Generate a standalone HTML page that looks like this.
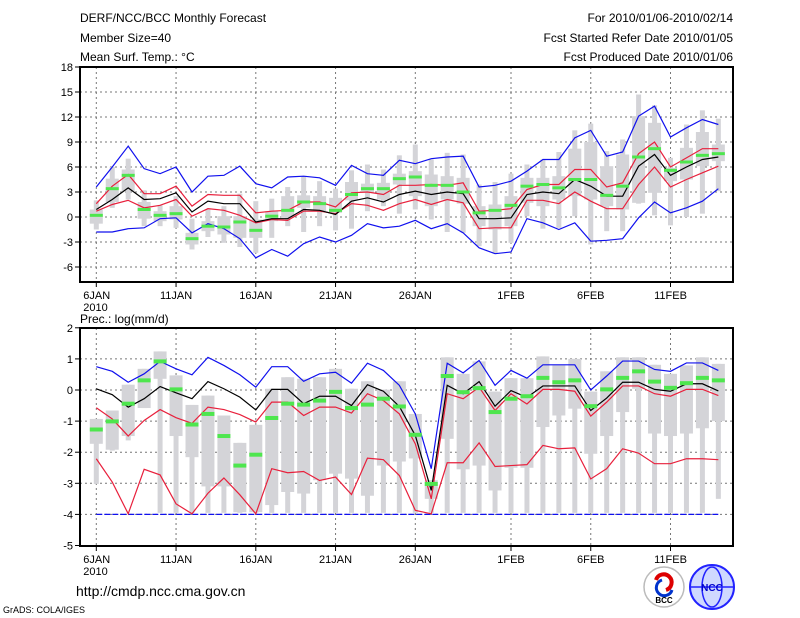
<!DOCTYPE html>
<html><head><meta charset="utf-8"><style>
html,body{margin:0;padding:0;background:#fff;}
svg{display:block;font-family:"Liberation Sans",sans-serif;}
</style></head><body>
<svg id="chart" width="800" height="618" viewBox="0 0 800 618">
<g font-size="12" fill="#000">
<text x="80" y="22">DERF/NCC/BCC Monthly Forecast</text>
<text x="80" y="42">Member Size=40</text>
<text x="80" y="61">Mean Surf. Temp.: °C</text>
<text x="733" y="22" text-anchor="end">For 2010/01/06-2010/02/14</text>
<text x="733" y="42" text-anchor="end">Fcst Started Refer Date 2010/01/05</text>
<text x="733" y="61" text-anchor="end">Fcst Produced Date 2010/01/06</text>
</g>
<text x="80" y="323" font-size="12">Prec.: log(mm/d)</text>
<text x="76" y="596" font-size="14">http://cmdp.ncc.cma.gov.cn</text>
<text x="3" y="613" font-size="9">GrADS: COLA/IGES</text>
<g>
<circle cx="664" cy="587" r="20" fill="#fff" stroke="#bbb" stroke-width="1.5"/>
<path d="M656 580 a8 8 0 1 1 10 10" fill="none" stroke="#d00" stroke-width="4"/>
<path d="M672 590 a8 8 0 1 1 -10 -10" fill="none" stroke="#03c" stroke-width="3"/>
<text x="664" y="603" font-size="8" text-anchor="middle" font-weight="bold">BCC</text>
</g>
<g>
<circle cx="712" cy="587" r="22" fill="#cfd8ff" stroke="#22f" stroke-width="2"/>
<ellipse cx="712" cy="587" rx="10" ry="20" fill="none" stroke="#22f" stroke-width="1.5"/>
<line x1="690" y1="587" x2="734" y2="587" stroke="#22f" stroke-width="1.5"/>
<text x="712" y="591" font-size="10" text-anchor="middle" fill="#00c" font-weight="bold">NCC</text>
</g>
<g id="top"></g>
<g id="bot"></g>
</svg>
<script>
// ---- temperature panel data ----
const tBlueMax=[3.6,6.0,8.5,5.8,5.2,6.0,3.0,4.9,5.0,6.1,4.0,3.5,4.8,4.9,4.7,3.8,6.2,5.2,5.0,6.8,6.4,7.0,7.2,7.3,3.6,3.8,4.3,5.5,6.9,6.9,9.5,10.4,7.3,7.8,12.1,13.3,9.6,10.7,11.7,11.1];
const tBlueMin=[-1.8,-1.8,-1.4,-1.3,-0.2,-0.1,-1.9,-0.8,-1.4,-2.6,-4.9,-3.9,-4.7,-3.2,-2.4,-3.0,-2.2,-0.8,-1.3,-1.1,-0.4,-1.4,-0.8,-1.9,-3.7,-4.4,-4.2,-0.2,-0.7,-1.5,-0.7,-2.9,-2.8,-2.6,-0.1,1.8,0.5,1.1,1.9,3.4];
const tRedUp=[1.6,3.7,5.1,2.8,2.8,3.7,1.3,2.7,2.6,2.6,0.5,0.7,0.8,1.8,1.8,1.2,2.9,3.0,2.7,3.8,3.8,3.9,3.8,4.1,0.7,0.8,1.0,3.3,3.9,3.9,5.7,5.7,3.6,4.1,7.6,9.0,6.0,7.1,8.2,8.2];
const tRedLo=[0.7,1.5,2.0,1.1,1.4,2.1,0.1,1.0,0.8,0.2,-0.7,-0.3,-0.4,0.7,0.7,0.4,1.6,1.4,0.8,1.6,2.1,1.5,2.1,1.7,-1.4,-1.3,-1.3,2.0,2.0,1.6,3.0,1.9,1.0,1.0,3.9,6.0,3.6,4.5,5.3,6.1];
const tMean=[0.9,2.1,3.5,2.1,2.2,2.9,0.6,1.9,1.6,1.6,-0.6,-0.2,-0.2,0.9,0.8,0.3,1.9,2.3,1.8,2.7,3.1,2.7,3.0,2.8,-0.2,-0.2,-0.1,2.7,3.0,2.8,4.5,3.7,2.5,2.5,6.1,7.5,5.0,6.0,6.9,7.2];
const tObs=[0.2,3.4,5.0,0.9,0.2,0.4,-2.6,-1.1,-1.2,-0.6,-1.6,0.1,0.8,1.8,1.6,0.8,2.7,3.4,3.4,4.6,4.8,3.8,3.8,3.0,0.5,0.8,1.4,3.7,3.9,3.5,4.5,4.5,2.6,3.7,7.2,8.2,5.6,6.6,7.4,7.6];
const tWhiskHi=[2.0,6.0,7.0,3.2,1.4,2.5,-0.2,0.9,1.3,2.8,1.9,2.2,3.6,4.9,4.3,3.4,5.6,6.3,5.7,7.4,8.7,6.9,7.7,7.5,3.9,4.2,5.2,6.3,6.9,7.8,10.4,11.2,7.9,9.3,14.7,13.4,7.1,11.1,12.8,11.8];
const tBoxHi=[0.9,4.6,5.7,1.8,0.7,1.3,-1.9,-0.5,0.1,0.1,-0.3,0.7,2.5,2.6,2.5,2.3,4.2,4.0,4.1,5.2,5.5,5.1,4.9,4.7,1.3,1.5,2.5,4.7,4.7,4.9,8.2,9.0,6.1,7.5,12.1,11.3,5.9,8.3,10.2,8.7];
const tBoxLo=[-0.8,1.8,3.1,-0.2,-0.5,-0.3,-3.3,-1.7,-2.1,-2.5,-2.5,-0.5,-0.1,1.1,0.7,0.5,2.0,2.9,2.1,3.9,2.5,1.3,2.1,1.6,-1.1,-1.5,-1.1,1.7,1.3,2.1,2.5,2.1,1.3,0.9,1.7,2.9,4.3,4.5,6.1,6.7];
const tWhiskLo=[-1.5,1.1,2.1,-1.1,-1.1,-1.3,-3.9,-2.4,-3.1,-3.6,-4.3,-2.5,-1.1,-1.8,-1.1,-1.6,-1.4,0.7,1.3,0.4,0.9,-0.3,-1.8,-1.9,-3.5,-4.4,-3.1,0.1,-1.4,-1.3,0.1,-3.3,-1.7,-1.7,1.6,0.2,-1.0,0.0,0.4,3.1];
const tYTicks=[-6,-3,0,3,6,9,12,15,18];
// ---- precipitation panel data ----
const pBlueMax=[0.75,0.6,0.25,0.52,0.92,0.68,0.49,1.05,0.79,0.49,0.09,0.75,0.75,0.28,0.52,0.57,0.22,0.86,0.63,0.15,-0.77,-2.53,0.86,0.55,0.95,0.15,0.63,0.38,0.81,0.81,0.81,0.0,0.45,0.93,0.93,0.66,0.6,0.87,0.87,0.63];
const pBlueMin=[-4,-4,-4,-4,-4,-4,-4,-4,-4,-4,-4,-4,-4,-4,-4,-4,-4,-4,-4,-4,-4,-4,-4,-4,-4,-4,-4,-4,-4,-4,-4,-4,-4,-4,-4,-4,-4,-4,-4,-4];
const pMean=[0.04,-0.15,-0.55,-0.28,0.11,-0.09,-0.28,0.27,0.04,-0.23,-0.64,0.02,0.02,-0.44,-0.2,-0.2,-0.5,0.17,-0.04,-0.53,-1.46,-3.23,0.15,-0.12,0.27,-0.52,-0.02,-0.24,0.13,0.13,0.13,-0.66,-0.26,0.25,0.25,0.02,-0.04,0.2,0.2,-0.03];
const pRedUp=[-0.57,-0.93,-1.48,-0.98,-0.63,-0.89,-1.07,-0.55,-0.63,-0.79,-1.03,-0.39,-0.39,-0.82,-0.55,-0.55,-0.74,-0.12,-0.34,-0.77,-1.73,-3.5,-0.12,-0.28,0.09,-0.66,-0.12,-0.45,0.02,0.02,-0.04,-0.84,-0.39,0.13,0.13,-0.12,-0.2,0.02,0.02,-0.18];
const pRedLo=[-2.21,-2.96,-3.98,-2.55,-2.73,-3.66,-3.98,-3.32,-2.83,-3.37,-3.98,-2.53,-2.66,-2.62,-2.91,-2.8,-3.36,-2.19,-2.24,-2.75,-3.87,-3.98,-2.34,-2.34,-1.7,-2.46,-2.43,-2.4,-1.78,-1.89,-1.86,-2.86,-2.53,-1.89,-2.03,-2.37,-2.37,-2.21,-2.21,-2.24];
const pObs=[-1.27,-1.01,-0.44,0.31,0.92,0.02,-1.11,-0.77,-1.48,-2.43,-2.08,-0.9,-0.44,-0.47,-0.34,-0.06,-0.58,-0.47,-0.28,-0.53,-1.44,-3.02,0.45,-0.07,0.06,-0.71,-0.28,-0.2,0.39,0.25,0.31,-0.52,0.02,0.39,0.6,0.27,0.07,0.22,0.39,0.31];
const pBoxHi=[-0.93,-0.66,0.17,0.68,1.24,0.47,-0.48,-0.18,-0.82,-1.7,-1.12,0.04,0.41,0.36,0.41,0.68,0.04,0.28,0.01,0.28,-0.77,-2.9,1.05,0.52,0.92,-0.05,0.38,0.38,1.08,0.79,1.0,-0.05,0.6,1.05,1.05,0.81,0.52,0.79,1.05,0.84];
const pBoxLo=[-1.73,-1.92,-1.48,-0.58,0.36,-1.48,-2.16,-3.1,-3.1,-3.93,-3.93,-3.7,-3.28,-3.33,-2.9,-2.69,-2.85,-3.4,-2.43,-2.3,-2.2,-3.5,-1.57,-2.55,-2.43,-3.23,-2.5,-2.5,-1.19,-0.82,-0.6,-2.05,-1.48,-0.71,0.04,-1.4,-1.48,-1.4,-1.23,-1.0];
const pWhiskLo=[-3.02,-1.95,-1.62,-0.58,-3.95,-3.95,-3.95,-3.95,-3.95,-3.95,-3.95,-3.95,-3.95,-3.95,-3.95,-3.95,-3.95,-3.95,-3.95,-3.95,-3.95,-3.95,-3.95,-3.95,-3.95,-3.95,-3.95,-3.95,-3.95,-3.95,-3.95,-3.95,-3.95,-3.95,-3.95,-3.95,-3.95,-3.95,-3.95,-3.5];
const pYTicks=[-5,-4,-3,-2,-1,0,1,2];
// ---- x axis ----
const xTickDays=[0,5,10,15,20,26,31,36];
const xTickLabels=['6JAN','11JAN','16JAN','21JAN','26JAN','1FEB','6FEB','11FEB'];

const NS='http://www.w3.org/2000/svg';
function mk(parent,tag,attrs){const e=document.createElementNS(NS,tag);for(const k in attrs)e.setAttribute(k,attrs[k]);parent.appendChild(e);return e;}
const X0=80,X1=733;
function xs(d){return 96.3+d*15.95;}

function panel(g,cfg){
  const y=cfg.y;
  // gridlines
  cfg.grid.forEach(v=>{const l=mk(g,'line',{x1:X0,x2:X1,y1:y(v),y2:y(v),stroke:'#777','stroke-dasharray':'2,3','stroke-width':1});
    
    });
  xTickDays.forEach((d,i)=>{const l=mk(g,'line',{x1:xs(d),x2:xs(d),y1:cfg.top,y2:cfg.bottom,stroke:'#777','stroke-dasharray':'2,3','stroke-width':1});
    
    
    const t=mk(g,'line',{x1:xs(d),x2:xs(d),y1:cfg.bottom,y2:cfg.bottom+5,stroke:'#000'});
    
    
    const tx=mk(g,'text',{x:xs(d),y:cfg.bottom+17,'font-size':11,'text-anchor':i==0?'start':'middle'});
    if(i==0)tx.setAttribute('x',xs(d)-13);
    tx.textContent=xTickLabels[i];
    
    });
  const yr=mk(g,'text',{x:xs(0)-13,y:cfg.bottom+29,'font-size':11});
  yr.textContent='2010';
  
  
  cfg.ticks.forEach(v=>{const t=mk(g,'line',{x1:X0-5,x2:X0,y1:y(v),y2:y(v),stroke:'#000'});
    
    
    const tx=mk(g,'text',{x:X0-7,y:y(v)+4,'font-size':11,'text-anchor':'end'});
    tx.textContent=v;
    
    });
  // gray bars
  for(let i=0;i<cfg.hi.length;i++){
    const cx=xs(i);
    const w=mk(g,'rect',{x:cx-2.5,y:y(cfg.whHi[i]),width:5,height:Math.max(0,y(cfg.whLo[i])-y(cfg.whHi[i])),fill:'#d4d4d8'});
    
    
    const b=mk(g,'rect',{x:cx-6.5,y:y(cfg.hi[i]),width:13,height:Math.max(0,y(cfg.lo[i])-y(cfg.hi[i])),fill:'#d4d4d8'});
    
    
  }
  // lines
  const line=(arr,color,name,dash)=>{const p=mk(g,'polyline',{points:arr.map((v,i)=>xs(i)+','+y(v)).join(' '),fill:'none',stroke:color,'stroke-width':1.2});
    if(dash)p.setAttribute('stroke-dasharray',dash);
    
    };
  line(cfg.bMin,'#1010ee','ensemble-min-line',cfg.dashMin);
  line(cfg.bMax,'#1010ee','ensemble-max-line');
  line(cfg.rLo,'#e8203c','lower-percentile-line');
  line(cfg.rUp,'#e8203c','upper-percentile-line');
  line(cfg.mean,'#000','ensemble-mean-line');
  cfg.obs.forEach((v,i)=>{const r=mk(g,'rect',{x:xs(i)-6.5,y:y(v)-cfg.gh/2,width:13,height:cfg.gh,fill:'#4ee64e'});
    
    });
  const f=mk(g,'rect',{x:X0,y:cfg.top,width:X1-X0,height:cfg.bottom-cfg.top,fill:'none',stroke:'#000','stroke-width':2});
  
  
}
panel(document.getElementById('top'),{y:v=>67+(18-v)*25/3,top:67,bottom:282,grid:[-6,-3,0,3,6,9,12,15],ticks:tYTicks,
  hi:tBoxHi,lo:tBoxLo,whHi:tWhiskHi,whLo:tWhiskLo,bMax:tBlueMax,bMin:tBlueMin,rUp:tRedUp,rLo:tRedLo,mean:tMean,obs:tObs,gh:3});
panel(document.getElementById('bot'),{y:v=>390-v*31.1,top:328,bottom:546,grid:[-4,-3,-2,-1,0,1],ticks:pYTicks,
  hi:pBoxHi,lo:pBoxLo,whHi:pBoxHi,whLo:pWhiskLo,bMax:pBlueMax,bMin:pBlueMin,rUp:pRedUp,rLo:pRedLo,mean:pMean,obs:pObs,gh:4,dashMin:'6,2'});
</script>
</body></html>
